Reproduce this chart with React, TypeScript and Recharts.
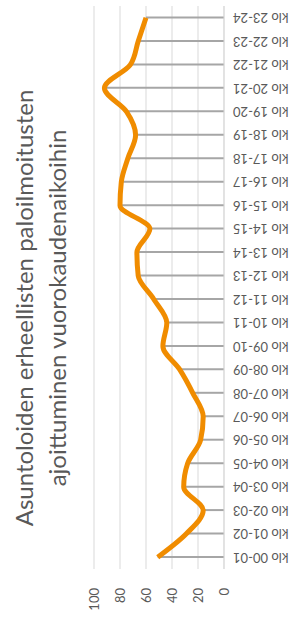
import { ComposedChart, Line, Bar, XAxis, YAxis, CartesianGrid } from 'recharts'

// hour slots, bottom to top in the picture
const hours = [
  'klo 00-01', 'klo 01-02', 'klo 02-03', 'klo 03-04', 'klo 04-05', 'klo 05-06',
  'klo 06-07', 'klo 07-08', 'klo 08-09', 'klo 09-10', 'klo 10-11', 'klo 11-12',
  'klo 12-13', 'klo 13-14', 'klo 14-15', 'klo 15-16', 'klo 16-17', 'klo 17-18',
  'klo 18-19', 'klo 19-20', 'klo 20-21', 'klo 21-22', 'klo 22-23', 'klo 23-24',
]

const alarms = [
  51, 29, 16, 31, 28, 18, 16, 24, 34, 47, 44, 54,
  66, 67, 57, 80, 79, 74, 68, 75, 92, 72, 66, 60,
]

const valueTicks = [0, 20, 40, 60, 80, 100]

const titleLines = [
  'Asuntoloiden erheellisten paloilmoitusten',
  'ajoittuminen vuorokaudenaikoihin',
]

const data = hours.map((hour, i) => ({ hour, value: alarms[i] }))

const TEXT = '#595959'
const FONT = 'Lato, "Open Sans", sans-serif'

const HourTick = ({ x, y, payload }: any) => (
  <text
    x={x}
    y={y}
    dy="0.35em"
    transform={`rotate(-90, ${x}, ${y})`}
    textAnchor="end"
    fill={TEXT}
    fontSize={13}
    fontFamily={FONT}
  >
    {payload.value}
  </text>
)

export default function App() {
  return (
    <div style={{ position: 'absolute', left: 0, top: 0, width: 305, height: 619, overflow: 'hidden', background: '#fff' }}>
      {/* chart is drawn landscape, then turned a quarter turn */}
      <div
        style={{
          position: 'absolute',
          left: 0,
          top: 0,
          width: 619,
          height: 305,
          transformOrigin: '0 0',
          transform: 'translateY(619px) rotate(-90deg)',
        }}
      >
        <svg width={619} height={80} style={{ position: 'absolute', left: 0, top: 0 }}>
          {titleLines.map((line, i) => (
            <text key={i} x={311} y={33 + i * 33} textAnchor="middle" fill={TEXT} fontSize={24} fontFamily={FONT}>
              {line}
            </text>
          ))}
        </svg>
        <ComposedChart
          width={619}
          height={305}
          data={data}
          margin={{ top: 94, right: 6, bottom: 21, left: 0 }}
          style={{ position: 'absolute', left: 0, top: 0 }}
        >
          <CartesianGrid vertical={false} stroke="#d9d9d9" />
          <XAxis
            dataKey="hour"
            height={60}
            interval={0}
            tickLine={false}
            tickSize={0}
            tickMargin={9}
            axisLine={{ stroke: '#d9d9d9' }}
            tick={<HourTick />}
          />
          <YAxis
            type="number"
            domain={[0, 100]}
            ticks={valueTicks}
            width={50}
            axisLine={false}
            tickLine={false}
            tickSize={0}
            tickMargin={19}
            tick={{ fill: TEXT, fontSize: 13, fontFamily: FONT }}
          />
          <Bar dataKey="value" barSize={2} fill="#a6a6a6" isAnimationActive={false} />
          <Line
            type="monotone"
            dataKey="value"
            stroke="#f08c00"
            strokeWidth={5}
            dot={false}
            activeDot={false}
            isAnimationActive={false}
          />
        </ComposedChart>
      </div>
    </div>
  )
}
